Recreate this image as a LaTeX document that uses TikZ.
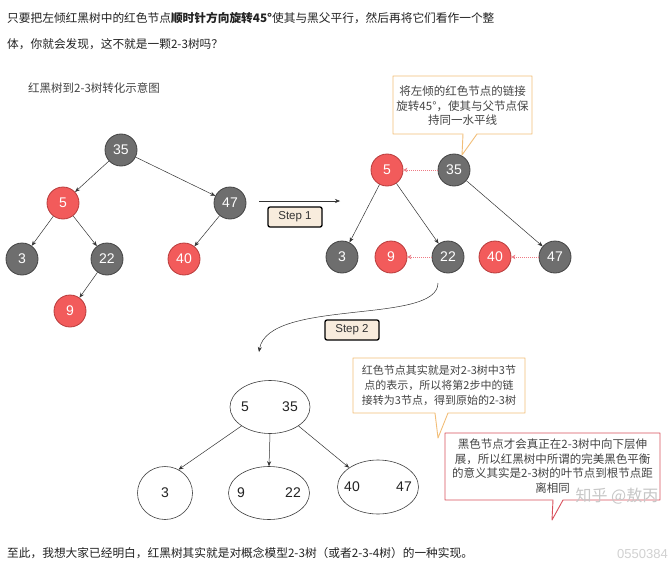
\documentclass[tikz,border=0pt]{standalone}
\usepackage{fontspec}
\setmainfont{Liberation Sans}
\newfontfamily\cjk{Noto Sans CJK SC}
\usetikzlibrary{arrows.meta,shapes.geometric}
\definecolor{bfill}{HTML}{6E6E6E}
\definecolor{bdraw}{HTML}{444444}
\definecolor{rfill}{HTML}{F25B5B}
\definecolor{rdraw}{HTML}{B83C3C}
\definecolor{dotred}{HTML}{EE7A84}
\definecolor{orangeb}{HTML}{F2BE78}
\definecolor{redb}{HTML}{D9505C}
\definecolor{beige}{HTML}{F8ECDD}
\definecolor{txt}{HTML}{222222}
\definecolor{ctxt}{HTML}{444444}
\begin{document}
\begin{tikzpicture}[x=1pt,y=-1pt,
  bnode/.style={circle,minimum size=32pt,inner sep=0pt,fill=bfill,draw=bdraw,line width=0.8pt,text=white,font=\fontsize{14}{14}\selectfont},
  rnode/.style={bnode,fill=rfill,draw=rdraw},
  edge/.style={draw=black!80,line width=0.5pt,-{Stealth[length=5pt,width=4pt]}},
  redge/.style={draw=dotred,densely dotted,line width=1pt,-{Stealth[length=4pt,width=4.5pt]}},
  stepbox/.style={draw=black,line width=1.3pt,rounded corners=2pt,fill=beige,font=\fontsize{11.5}{11.5}\selectfont,minimum width=54pt,minimum height=20pt,inner sep=0pt,text=black!80},
  ell/.style={ellipse,draw=black!75,line width=0.6pt,inner sep=0pt},
  num/.style={font=\fontsize{14}{14}\selectfont,text=txt},
  ctext/.style={align=center,text=ctxt,font=\cjk\fontsize{11.5}{14.5}\selectfont},
  hline/.style={anchor=west,text=txt,font=\cjk\fontsize{11.7}{11.7}\selectfont,inner sep=0pt}
]
\useasboundingbox (0,0) rectangle (671,575);
\fill[white] (0,0) rectangle (671,575);

% header text
\node[hline] (h1) at (7,18) {只要把左倾红黑树中的红色节点\textbf{顺时针方向旋转45°}使其与黑父平行，然后再将它们看作一个整};
\node[hline] (h2) at (7,44) {体，你就会发现，这不就是一颗2-3树吗？};

% title
\node[anchor=west,inner sep=0pt,text=ctxt,font=\cjk\fontsize{11.5}{11.5}\selectfont] (title) at (28,88) {红黑树到2-3树转化示意图};

% left tree
\node[bnode] (L35) at (121,150) {35};
\node[rnode] (L5) at (63,203) {5};
\node[bnode] (L47) at (230,203) {47};
\node[bnode] (L3) at (22,259) {3};
\node[bnode] (L22) at (107,259) {22};
\node[rnode] (L40) at (184,259) {40};
\node[rnode] (L9) at (70,311) {9};
\draw[edge] (L35) -- (L5);
\draw[edge] (L35) -- (L47);
\draw[edge] (L5) -- (L3);
\draw[edge] (L5) -- (L22);
\draw[edge] (L47) -- (L40);
\draw[edge] (L22) -- (L9);

% step 1
\coordinate (s1a) at (259,201);
\coordinate (s1b) at (340,201);
\draw[edge] (s1a) -- (s1b);
\node[stepbox] (step1) at (295,217) {Step 1};

% right tree
\node[rnode] (R5) at (387,170) {5};
\node[bnode] (R35) at (454,170) {35};
\node[bnode] (R3) at (342,257) {3};
\node[rnode] (R9) at (391,257) {9};
\node[bnode] (R22) at (448,257) {22};
\node[rnode] (R40) at (495,257) {40};
\node[bnode] (R47) at (555,257) {47};
\draw[edge] (R5) -- (R3);
\draw[edge] (R5) -- (R22);
\draw[edge] (R35) -- (R47);
\draw[redge] (R35) -- (R5);
\draw[redge] (R22) -- (R9);
\draw[redge] (R47) -- (R40);

% callout 1
\draw[orangeb,line width=0.9pt,fill=white,line join=round]
  (393,76) -- (532,76) -- (532,134) -- (477,134) -- (462,155) -- (463,134) -- (393,134) -- cycle;
\node[ctext] (c1) at (462.5,106) {将左倾的红色节点的链接\\旋转45°，使其与父节点保\\持同一水平线};

% step 2
\coordinate (s2a) at (438,283);
\coordinate (s2b) at (259,352);
\draw[edge] (s2a) .. controls (438,325) and (268,298) .. (s2b);
\node[stepbox] (step2) at (352,330) {Step 2};

% callout 2
\draw[orangeb,line width=0.9pt,fill=white,line join=round]
  (353,358) -- (525,358) -- (525,413) -- (448,413) -- (438,438) -- (435,413) -- (353,413) -- cycle;
\node[ctext,font=\cjk\fontsize{11}{15}\selectfont] (c2) at (439,385) {红色节点其实就是对2-3树中3节\\点的表示，所以将第2步中的链\\接转为3节点，得到原始的2-3树};

% bottom 2-3 tree
\node[ell,minimum width=80pt,minimum height=53pt] (T0) at (270,407) {};
\node[num] (t5) at (245,407) {5};
\node[num] (t35) at (290,407) {35};
\node[ell,minimum width=55pt,minimum height=53pt] (T1) at (165,493) {};
\node[num] (t3) at (165,493) {3};
\node[ell,minimum width=81pt,minimum height=53pt] (T2) at (269,493) {};
\node[num] (t9) at (241,493) {9};
\node[num] (t22) at (293,493) {22};
\node[ell,minimum width=81pt,minimum height=54pt] (T3) at (378,487) {};
\node[num] (t40) at (352,487) {40};
\node[num] (t47) at (404,487) {47};
\draw[edge] (T0.south west) -- (T1.60);
\draw[edge] (T0.south) -- (T2.north);
\draw[edge] (T0.south east) -- (T3.north west);

% red callout
\draw[redb,line width=0.9pt,fill=white,line join=round]
  (445,433) -- (660,433) -- (660,500) -- (563,500) -- (552,520) -- (553,500) -- (445,500) -- cycle;
\node[ctext,font=\cjk\fontsize{11.5}{14.5}\selectfont] (c3) at (552.5,466) {黑色节点才会真正在2-3树中向下层伸\\展，所以红黑树中所谓的完美黑色平衡\\的意义其实是2-3树的叶节点到根节点距\\离相同};
\node[text=black!22,font=\cjk\fontsize{16}{16}\selectfont,inner sep=0pt] (wm1) at (617,496) {知乎 @敖丙};

% footer
\node[text=black!18,anchor=east,inner sep=0pt,font=\fontsize{13}{13}\selectfont] (wm2) at (668,554) {0550384};
\node[hline] (f1) at (7,553) {至此，我想大家已经明白，红黑树其实就是对概念模型2-3树（或者2-3-4树）的一种实现。};
\end{tikzpicture}
\end{document}
